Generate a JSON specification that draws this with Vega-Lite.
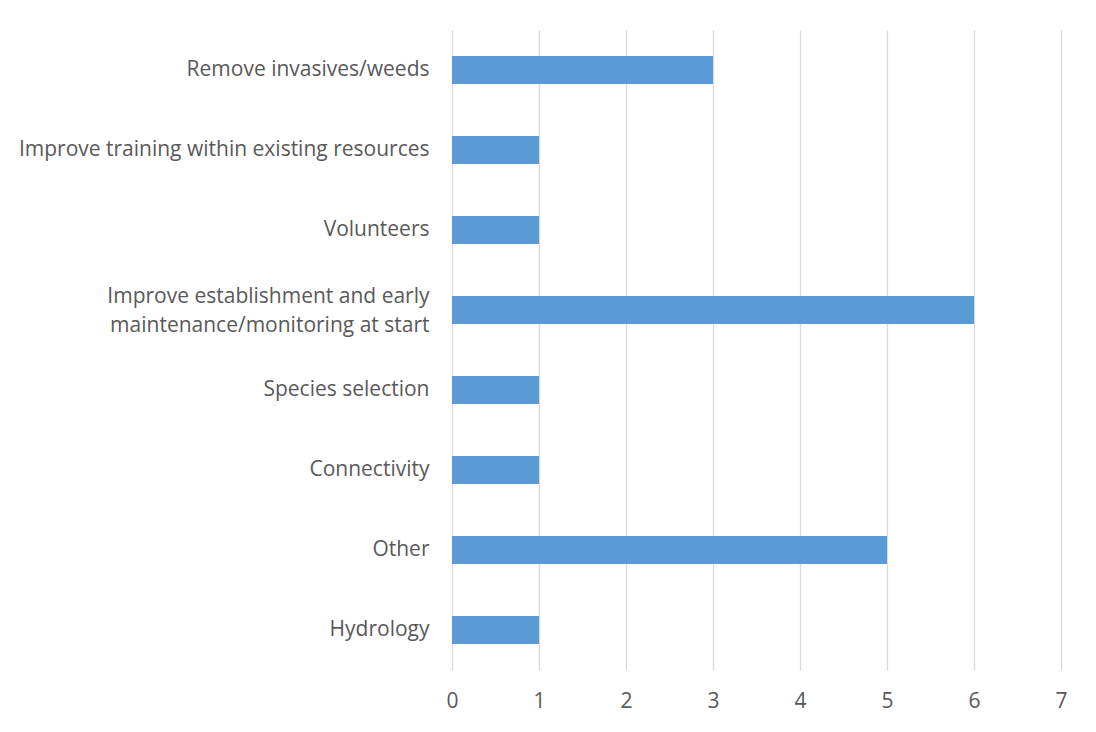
{
  "$schema": "https://vega.github.io/schema/vega-lite/v6.json",
  "width": 609,
  "height": 640,
  "autosize": {"type": "none"},
  "padding": {"left": 452, "top": 30, "right": 35, "bottom": 62},
  "background": "white",
  "data": {
    "values": [
      {"category": "Remove invasives/weeds", "count": 3},
      {"category": "Improve training within existing resources", "count": 1},
      {"category": "Volunteers", "count": 1},
      {"category": "Improve establishment and early|maintenance/monitoring at start", "count": 6},
      {"category": "Species selection", "count": 1},
      {"category": "Connectivity", "count": 1},
      {"category": "Other", "count": 5},
      {"category": "Hydrology", "count": 1}
    ]
  },
  "mark": {"type": "bar", "color": "#5B9BD5"},
  "encoding": {
    "y": {
      "field": "category",
      "type": "nominal",
      "sort": null,
      "scale": {"paddingInner": 0.65, "paddingOuter": 0.325},
      "axis": {
        "title": null,
        "domain": false,
        "ticks": false,
        "labelPadding": 23,
        "labelFont": "Open Sans",
        "labelFontSize": 21,
        "labelColor": "#595959",
        "labelLimit": 500,
        "labelLineHeight": 29,
        "labelOffset": {"condition": {"test": "indexof(datum.label, '|') >= 0", "value": -13}, "value": 0},
        "labelExpr": "split(datum.label, '|')"
      }
    },
    "x": {
      "field": "count",
      "type": "quantitative",
      "scale": {"domain": [0, 7]},
      "axis": {
        "title": null,
        "values": [0, 1, 2, 3, 4, 5, 6, 7],
        "labelOverlap": false,
        "labelFlush": false,
        "domain": false,
        "ticks": false,
        "grid": true,
        "gridColor": "#d9d9d9",
        "gridWidth": 1.3,
        "labelPadding": 20,
        "labelFont": "Open Sans",
        "labelFontSize": 21,
        "labelColor": "#595959"
      }
    }
  },
  "config": {"view": {"stroke": null}}
}
